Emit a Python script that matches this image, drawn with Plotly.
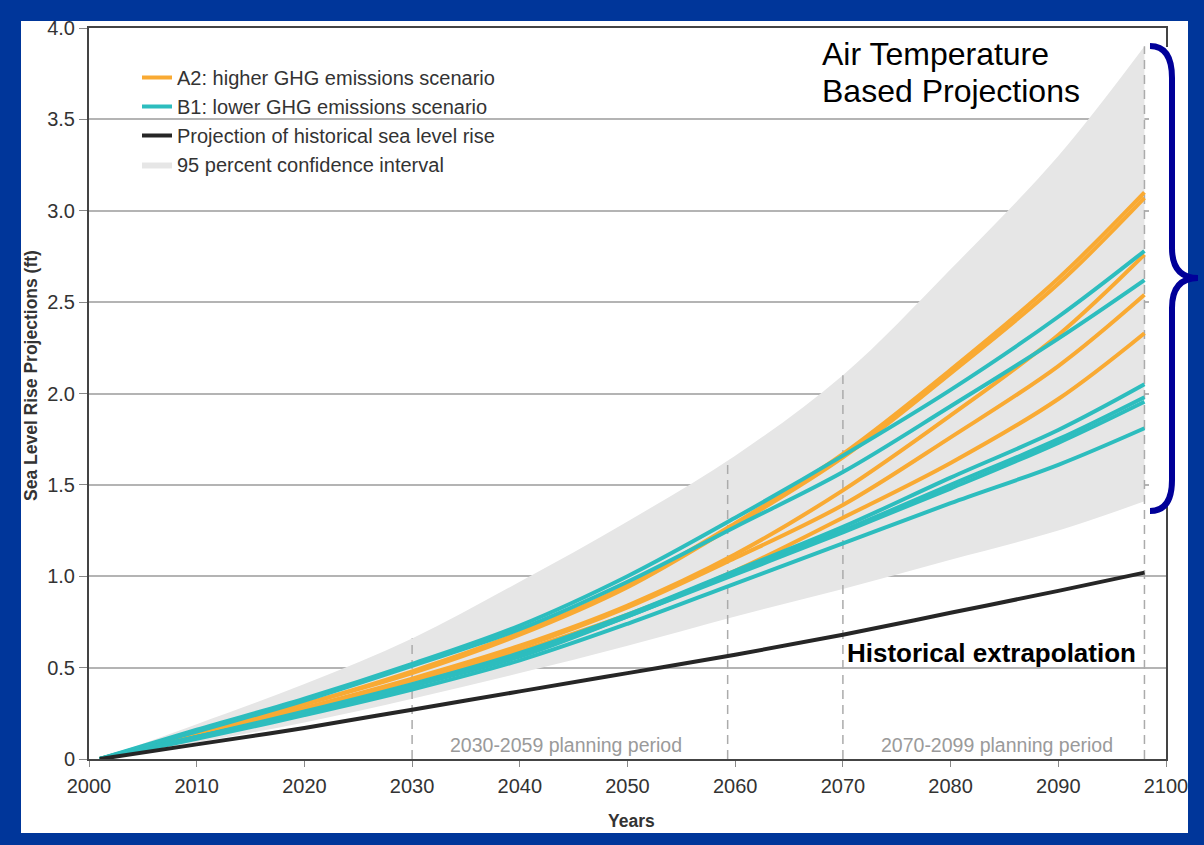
import plotly.graph_objects as go

# years sampled along every projection curve
years = [2001, 2010, 2020, 2030, 2040, 2050, 2060, 2070, 2080, 2090, 2098]

# A2: higher emissions runs (ft)
a2_runs = [
    [0, 0.14, 0.30, 0.48, 0.69, 0.95, 1.29, 1.67, 2.13, 2.63, 3.10],
    [0, 0.14, 0.30, 0.47, 0.68, 0.94, 1.28, 1.65, 2.11, 2.60, 3.07],
    [0, 0.13, 0.28, 0.44, 0.62, 0.84, 1.12, 1.47, 1.88, 2.32, 2.76],
    [0, 0.13, 0.27, 0.43, 0.61, 0.83, 1.10, 1.39, 1.76, 2.15, 2.54],
    [0, 0.12, 0.26, 0.41, 0.59, 0.79, 1.03, 1.32, 1.62, 1.97, 2.33],
]

# B1: lower emissions runs (ft)
b1_runs = [
    [0, 0.16, 0.33, 0.52, 0.73, 1.00, 1.32, 1.66, 2.02, 2.42, 2.78],
    [0, 0.15, 0.32, 0.51, 0.71, 0.97, 1.27, 1.57, 1.93, 2.30, 2.62],
    [0, 0.12, 0.26, 0.41, 0.58, 0.79, 1.03, 1.27, 1.54, 1.80, 2.05],
    [0, 0.12, 0.25, 0.40, 0.57, 0.78, 1.02, 1.25, 1.50, 1.75, 1.98],
    [0, 0.12, 0.25, 0.40, 0.56, 0.78, 1.01, 1.24, 1.48, 1.73, 1.955],
    [0, 0.11, 0.24, 0.38, 0.54, 0.74, 0.96, 1.18, 1.40, 1.61, 1.81],
]

historical = [0, 0.08, 0.17, 0.27, 0.37, 0.47, 0.57, 0.68, 0.80, 0.92, 1.02]
ci_upper = [0, 0.19, 0.41, 0.66, 0.97, 1.30, 1.66, 2.10, 2.68, 3.30, 3.90]
ci_lower = [0, 0.09, 0.20, 0.33, 0.47, 0.62, 0.78, 0.93, 1.09, 1.25, 1.41]

# planning period boundaries and the height of their dashed markers
period_years = [2030, 2059.3, 2070, 2098]
period_tops = [0.66, 1.63, 2.10, 3.90]

x_ticks = list(range(2000, 2101, 10))
y_ticks = [0, 0.5, 1.0, 1.5, 2.0, 2.5, 3.0, 3.5, 4.0]
y_ticktext = ["0", "0.5", "1.0", "1.5", "2.0", "2.5", "3.0", "3.5", "4.0"]

ORANGE = "#F9AA33"
TEAL = "#2DBDBE"
FONT = "Liberation Sans, Arial, sans-serif"

W, H = 1204, 845
L, R, T, B = 89, 38, 28, 86


def px2x(px):
    return (px - L) / (W - L - R)


def px2y(py):
    return (H - B - py) / (H - T - B)


fig = go.Figure()

# confidence band
fig.add_trace(go.Scatter(x=years, y=ci_lower, mode="lines", line=dict(width=0, shape="spline"),
                         showlegend=False, hoverinfo="skip"))
fig.add_trace(go.Scatter(x=years, y=ci_upper, mode="lines", fill="tonexty", fillcolor="#E6E6E6",
                         line=dict(width=0, shape="spline"), name="95 percent confidence interval",
                         legendrank=4))

# planning period markers
for yr, top in zip(period_years, period_tops):
    fig.add_trace(go.Scatter(x=[yr, yr], y=[0, top], mode="lines", showlegend=False,
                             line=dict(color="#ABABAB", width=1.5, dash="9px,6px"), hoverinfo="skip"))

for i, run in enumerate(a2_runs):
    fig.add_trace(go.Scatter(x=years, y=run, mode="lines", line=dict(color=ORANGE, width=4, shape="spline"),
                             name="A2: higher GHG emissions scenario", legendgroup="a2",
                             showlegend=(i == 0), legendrank=1))
for i, run in enumerate(b1_runs):
    fig.add_trace(go.Scatter(x=years, y=run, mode="lines", line=dict(color=TEAL, width=4, shape="spline"),
                             name="B1: lower GHG emissions scenario", legendgroup="b1",
                             showlegend=(i == 0), legendrank=2))

fig.add_trace(go.Scatter(x=years, y=historical, mode="lines",
                         line=dict(color="#262626", width=4, shape="spline"),
                         name="Projection of historical sea level rise", legendrank=3))

# blue frame, legend backing, right-hand cover, brace
shapes = [
    dict(type="rect", xref="paper", yref="paper", layer="below",
         x0=px2x(21), x1=px2x(1188), y0=px2y(833), y1=px2y(21),
         fillcolor="white", line=dict(width=0)),
    dict(type="rect", xref="paper", yref="paper", layer="between",
         x0=px2x(110), x1=px2x(552), y0=px2y(180), y1=px2y(58),
         fillcolor="white", line=dict(width=0)),
    dict(type="rect", xref="paper", yref="paper", layer="above",
         x0=px2x(1149), x1=px2x(1187), y0=px2y(506), y1=px2y(47),
         fillcolor="white", line=dict(width=0)),
]

brace_pts = [("M", (1150, 46)), ("Q", (1172, 46), (1172, 78)), ("L", (1172, 248)),
             ("Q", (1172, 278), (1198, 278)), ("Q", (1172, 278), (1172, 308)),
             ("L", (1172, 480)), ("Q", (1172, 511), (1150, 511))]
path = ""
for cmd, *pts in brace_pts:
    path += cmd + " " + " ".join(f"{px2x(a):.5f},{px2y(b):.5f}" for a, b in pts) + " "
shapes.append(dict(type="path", xref="paper", yref="paper", layer="above", path=path.strip(),
                   line=dict(color="#000099", width=6)))

annotations = [
    dict(text="Air Temperature", x=px2x(820), y=px2y(54), xanchor="left",
         yanchor="middle", font=dict(size=32, color="black", family=FONT)),
    dict(text="Based Projections", x=px2x(820), y=px2y(91), xanchor="left",
         yanchor="middle", font=dict(size=32, color="black", family=FONT)),
    dict(text="<b>Historical extrapolation</b>", x=px2x(845), y=px2y(653), xanchor="left",
         yanchor="middle", font=dict(size=26, color="black", family=FONT)),
    dict(text="2030-2059 planning period", x=px2x(566), y=px2y(745), xanchor="center",
         yanchor="middle", font=dict(size=19.5, color="#9A9A9A", family=FONT)),
    dict(text="2070-2099 planning period", x=px2x(997), y=px2y(745), xanchor="center",
         yanchor="middle", font=dict(size=19.5, color="#9A9A9A", family=FONT)),
    dict(text="<b>Sea Level Rise Projections (ft)</b>", x=px2x(31), y=px2y(376), textangle=-90,
         xanchor="center", yanchor="middle", font=dict(size=17.5, color="#333333", family=FONT)),
    dict(text="<b>Years</b>", x=px2x(631), y=px2y(821), xanchor="center", yanchor="middle",
         font=dict(size=17.5, color="#333333", family=FONT)),
]
for a in annotations:
    a.update(xref="paper", yref="paper", showarrow=False)

fig.update_layout(
    width=W, height=H,
    margin=dict(l=L, r=R, t=T, b=B),
    paper_bgcolor="#00369A",
    plot_bgcolor="white",
    font=dict(family=FONT, color="#333333"),
    shapes=shapes,
    annotations=annotations,
    legend=dict(x=px2x(137), y=px2y(58), xanchor="left", yanchor="top",
                bgcolor="rgba(0,0,0,0)", font=dict(size=20, color="#333333", family=FONT),
                traceorder="normal", tracegroupgap=0),
)
fig.update_xaxes(range=[2000, 2100], tickvals=x_ticks, showgrid=False, zeroline=False,
                 showline=True, linecolor="#444444", linewidth=2, mirror=True,
                 ticks="outside", ticklen=6, tickcolor="#888888",
                 tickfont=dict(size=20, color="#333333"), ticklabelstandoff=2)
fig.update_yaxes(range=[0, 4], tickvals=y_ticks, ticktext=y_ticktext, showgrid=True,
                 gridcolor="#B4B4B4", gridwidth=1.5, zeroline=False,
                 showline=True, linecolor="#444444", linewidth=2, mirror=True,
                 ticks="outside", ticklen=8, tickcolor="#888888",
                 tickfont=dict(size=20, color="#333333"))

fig.write_html("out.html", config={"displayModeBar": False},
               post_script="document.body.style.margin='0';")
